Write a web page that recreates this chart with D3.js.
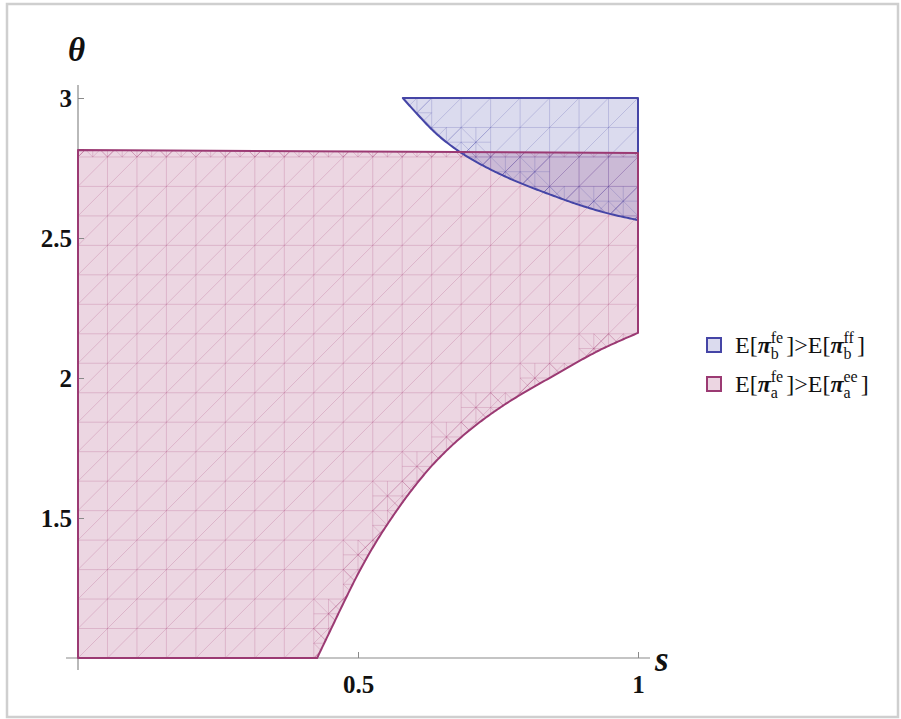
<!DOCTYPE html>
<html><head><meta charset="utf-8">
<script src="https://cdn.jsdelivr.net/npm/d3@7"></script>
<style>body{margin:0;background:#fff}svg{display:block}</style>
</head><body>
<svg id="chart" width="901" height="719"></svg>
<script>
// ---- data ----
const xTicks = [0.5, 1];
const yTicks = [1.5, 2, 2.5, 3];
const xTickLabels = ["0.5", "1"];
const yTickLabels = ["1.5", "2", "2.5", "3"];
// lower-right boundary of region a: [s, theta]
const curveA = [[0.427,1.0],[0.451,1.1],[0.475,1.2],[0.500,1.3],[0.528,1.4],[0.560,1.5],[0.596,1.6],[0.638,1.7],[0.691,1.8],[0.758,1.9],[0.842,2.0],[0.932,2.1],[1.0,2.161]];
const topA = [[1.0,2.804],[0.0,2.814]];
const cornerA = [[0.0,1.0]];
// lower-left boundary of region b: [s, theta]
const curveB = [[0.580,3.0],[0.600,2.955],[0.640,2.872],[0.680,2.810],[0.720,2.762],[0.777,2.707],[0.850,2.650],[0.900,2.615],[0.950,2.586],[1.0,2.564]];
const topB = [[1.0,3.0]];
const legendLabels = [
  {sup1:"fe", sub:"b", sup2:"ff"},
  {sup1:"fe", sub:"a", sup2:"ee"}
];

// ---- setup ----
const svg = d3.select("#chart");
const x = d3.scaleLinear([0,1],[78,638]);
const y = d3.scaleLinear([1,3],[658,98]);
const pinkStroke = "#9b3a73", pinkFill = "#a0306e";
const blueStroke = "#4545a6", blueFill = "#4a4aa8";

svg.append("rect").attr("x",7).attr("y",4).attr("width",891).attr("height",713)
  .attr("fill","none").attr("stroke","#cfcfcf").attr("stroke-width",2.5);

const lineGen = d3.line().x(d=>x(d[0])).y(d=>y(d[1])).curve(d3.curveCatmullRom.alpha(0.5));
function sample(pts){
  const p = svg.append("path").attr("d", lineGen(pts)).attr("fill","none");
  const node = p.node(), L = node.getTotalLength(), out=[];
  const n = Math.ceil(L/2);
  for(let k=0;k<=n;k++){ const q=node.getPointAtLength(L*k/n); out.push([q.x,q.y]); }
  p.remove();
  return out;
}
const polyA = [...sample(curveA), ...topA.map(p=>[x(p[0]),y(p[1])]), ...cornerA.map(p=>[x(p[0]),y(p[1])])];
const polyB = [...sample(curveB), ...topB.map(p=>[x(p[0]),y(p[1])])];

const defs = svg.append("defs");
defs.append("clipPath").attr("id","clipA").append("path").attr("d","M"+polyA.join("L")+"Z");
defs.append("clipPath").attr("id","clipB").append("path").attr("d","M"+polyB.join("L")+"Z");

const NX=19, NY=19;
const gx = i => x(i/NX);
const gy = j => y(1+2*j/NY);

function mesh(poly, clipId, color, op){
  const g = svg.append("g").attr("clip-path",`url(#${clipId})`)
    .attr("stroke",color).attr("stroke-opacity",op).attr("stroke-width",1).attr("fill","none");
  const segs=[];
  for(let i=0;i<=NX;i++) segs.push([[gx(i),gy(0)],[gx(i),gy(NY)]]);
  for(let j=0;j<=NY;j++) segs.push([[gx(0),gy(j)],[gx(NX),gy(j)]]);
  for(let k=-NY;k<=NX;k++){
    const a=[Math.max(k,0),Math.max(-k,0)], b=[Math.min(NX,NY+k),Math.min(NY,NX-k)];
    if(b[0]-a[0]>0) segs.push([[gx(a[0]),gy(a[1])],[gx(b[0]),gy(b[1])]]);
  }
  const inside=p=>d3.polygonContains(poly,p);
  function mixed(x0,y0,x1,y1){
    const e=1.5;
    const a0=Math.min(x0,x1)+e, a1=Math.max(x0,x1)-e, b0=Math.min(y0,y1)+e, b1=Math.max(y0,y1)-e;
    const am=(a0+a1)/2, bm=(b0+b1)/2;
    const pts=[[a0,b0],[a1,b0],[a0,b1],[a1,b1],[am,bm],[am,b0],[am,b1],[a0,bm],[a1,bm]];
    const c=pts.filter(inside).length;
    return c>0 && c<pts.length;
  }
  function refine(x0,y0,x1,y1,level){
    const xm=(x0+x1)/2, ym=(y0+y1)/2;
    segs.push([[x0,y1],[x1,y0]]);
    segs.push([[x0,y0],[x1,y1]]);
    if(level===1){
      segs.push([[xm,y0],[xm,y1]]);
      segs.push([[x0,ym],[x1,ym]]);
      const subs=[[x0,y0,xm,ym],[xm,y0,x1,ym],[x0,ym,xm,y1],[xm,ym,x1,y1]];
      subs.forEach(s=>{ if(mixed(...s)) refine(...s,2); });
    }
  }
  for(let i=0;i<NX;i++) for(let j=0;j<NY;j++){
    const c=[gx(i),gy(j),gx(i+1),gy(j+1)];
    if(mixed(...c)) refine(...c,1);
  }
  g.selectAll("line").data(segs).join("line")
    .attr("x1",d=>d[0][0]).attr("y1",d=>d[0][1]).attr("x2",d=>d[1][0]).attr("y2",d=>d[1][1]);
}

svg.append("path").attr("d","M"+polyA.join("L")+"Z").attr("fill",pinkFill).attr("fill-opacity",0.2);
mesh(polyA,"clipA",pinkFill,0.2);
svg.append("path").attr("d","M"+polyB.join("L")+"Z").attr("fill",blueFill).attr("fill-opacity",0.2);
mesh(polyB,"clipB",blueFill,0.22);

// axes
const axisColor="#8a8a8a";
const fontTick = "'Liberation Serif', 'Times New Roman', serif";
const xAxis = d3.axisBottom(x).tickValues(xTicks).tickFormat((d,i)=>xTickLabels[i])
  .tickSizeInner(-6).tickSizeOuter(0).tickPadding(12);
const gxA = svg.append("g").attr("transform",`translate(0,${y(1)})`).call(xAxis);
gxA.select(".domain").remove();
gxA.selectAll(".tick line").attr("stroke",axisColor);
gxA.selectAll(".tick text").attr("font-family",fontTick).attr("font-weight","bold")
  .attr("font-size",25).attr("fill","#111").attr("dy","0.9em");
svg.append("line").attr("x1",66).attr("x2",650).attr("y1",y(1)).attr("y2",y(1)).attr("stroke",axisColor).attr("stroke-width",1.2);

const yAxis = d3.axisLeft(y).tickValues(yTicks).tickFormat((d,i)=>yTickLabels[i])
  .tickSizeInner(-6).tickSizeOuter(0).tickPadding(6);
const gyA = svg.append("g").attr("transform",`translate(${x(0)},0)`).call(yAxis);
gyA.select(".domain").remove();
gyA.selectAll(".tick line").attr("stroke",axisColor);
gyA.selectAll(".tick text").attr("font-family",fontTick).attr("font-weight","bold")
  .attr("font-size",25).attr("fill","#111");
svg.append("line").attr("x1",x(0)).attr("x2",x(0)).attr("y1",85).attr("y2",670).attr("stroke",axisColor).attr("stroke-width",1.2);

// boundaries
svg.append("path").attr("d","M"+polyB.join("L")+"Z").attr("fill","none").attr("stroke",blueStroke).attr("stroke-width",2).attr("stroke-linejoin","round");
svg.append("path").attr("d","M"+polyA.join("L")+"Z").attr("fill","none").attr("stroke",pinkStroke).attr("stroke-width",2).attr("stroke-linejoin","round");

// axis labels
svg.append("text").attr("x",68).attr("y",61).text("θ")
  .attr("font-family",fontTick).attr("font-style","italic").attr("font-weight","bold").attr("font-size",33).attr("fill","#111");
svg.append("text").attr("x",655).attr("y",671).text("s")
  .attr("font-family",fontTick).attr("font-style","italic").attr("font-weight","bold").attr("font-size",35).attr("fill","#111");

// legend
const legendColors=[[blueStroke,blueFill],[pinkStroke,pinkFill]];
legendLabels.forEach((L,i)=>{
  const cy = 345 + i*39;
  svg.append("rect").attr("x",707).attr("y",cy-7).attr("width",14).attr("height",14)
    .attr("fill",legendColors[i][1]).attr("fill-opacity",0.2).attr("stroke",legendColors[i][0]).attr("stroke-width",2);
  const g = svg.append("g").attr("font-family",fontTick).attr("fill","#111");
  let cx = 735; const base = cy+8;
  function put(t, opts={}){
    const el=g.append("text").attr("x",cx).attr("y",base+(opts.dy||0)).text(t).attr("font-size",opts.size||24);
    if(opts.italic) el.attr("font-style","italic");
    if(opts.bold) el.attr("font-weight","bold");
    return el.node().getComputedTextLength();
  }
  function stack(sup,sub){
    const w1=put(sup,{size:16,dy:-10}); const w2=put(sub,{size:16,dy:6});
    cx += Math.max(w1,w2)+3;
  }
  cx += put("E["); cx += put("π",{italic:true,bold:true});
  stack(L.sup1,L.sub);
  cx += put("]>E["); cx += put("π",{italic:true,bold:true});
  stack(L.sup2,L.sub);
  cx += put("]");
});
</script>
</body></html>
